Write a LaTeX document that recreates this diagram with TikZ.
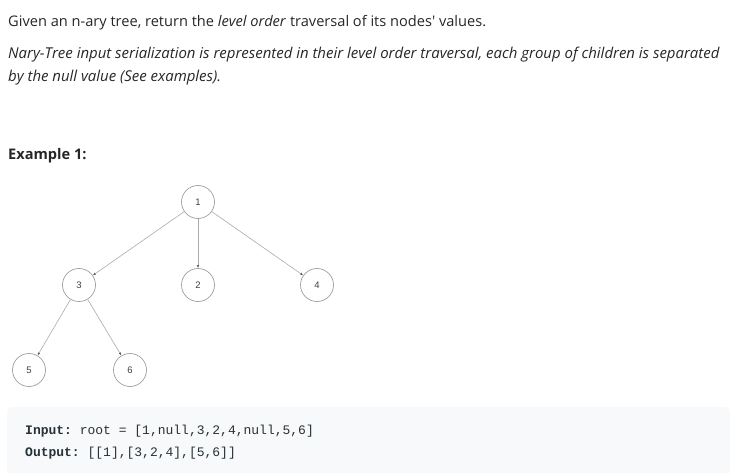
\documentclass[tikz,border=0pt]{standalone}
\usepackage{fontspec}
\setmainfont{Open Sans}[Ligatures=TeXOff]
\setmonofont{Liberation Mono}
\newfontfamily\numfont{Liberation Sans}
\usepackage{xcolor}
\usetikzlibrary{arrows.meta}
\definecolor{bodytext}{HTML}{262626}
\definecolor{codebg}{HTML}{F7F9FA}
\definecolor{codetext}{HTML}{263238}
\definecolor{ringgray}{HTML}{9E9E9E}
\definecolor{edgegray}{HTML}{ABABAB}

\begin{document}
\begin{tikzpicture}[x=1pt, y=-1pt,
    treenode/.style={circle, draw=ringgray, line width=0.7pt, fill=white, minimum size=33pt, inner sep=0pt, font=\numfont\fontsize{9.5}{10}\selectfont, text=black!75},
    treeedge/.style={draw=edgegray, line width=0.6pt, -{Latex[length=3pt,width=2.4pt,color=black!65]}},
    para/.style={anchor=base west, inner sep=0pt, text=bodytext, font=\fontsize{14.6}{17}\selectfont},
    codeline/.style={anchor=base west, inner sep=0pt, text=codetext, font=\ttfamily\fontsize{13}{15}\selectfont}]
    \useasboundingbox (0,0) rectangle (731,473);

    % text above the tree
    \node[para] (intro) at (8,27) {Given an n-ary tree, return the \textit{level order} traversal of its nodes' values.};
    \node[para, font=\itshape\fontsize{14.95}{17}\selectfont] (serial) at (8,59) {Nary-Tree input serialization is represented in their level order traversal, each group of children is separated};
    \node[para, font=\itshape\fontsize{14.95}{17}\selectfont] (serialb) at (8,82) {by the null value (See examples).};
    \node[para, font=\bfseries\fontsize{14.6}{17}\selectfont] (example) at (8,160) {Example 1:};

    % the tree
    \node[treenode] (n1) at (198,202) {1};
    \node[treenode] (n3) at (79,285) {3};
    \node[treenode] (n2) at (198,285) {2};
    \node[treenode] (n4) at (317,285) {4};
    \node[treenode] (n5) at (29,370) {5};
    \node[treenode] (n6) at (130,370) {6};
    \draw[treeedge] (n1) -- (n3);
    \draw[treeedge] (n1) -- (n2);
    \draw[treeedge] (n1) -- (n4);
    \draw[treeedge] (n3) -- (n5);
    \draw[treeedge] (n3) -- (n6);

    % code block
    \fill[codebg, rounded corners=5pt] (7,407) rectangle (730,480);
    \node[codeline] (input) at (25,434) {\textbf{Input:} root = [1,null,3,2,4,null,5,6]};
    \node[codeline] (output) at (25,456) {\textbf{Output:} [[1],[3,2,4],[5,6]]};
\end{tikzpicture}
\end{document}
